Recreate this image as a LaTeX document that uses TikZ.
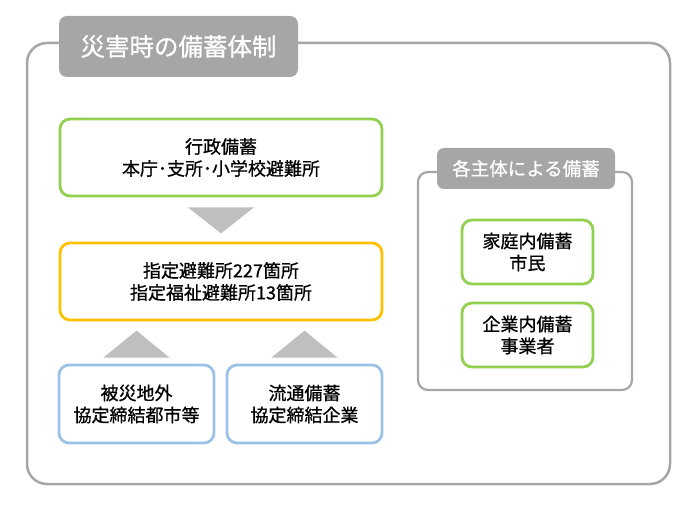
\documentclass[tikz,border=0pt]{standalone}
\usepackage{fontspec}
\setmainfont{Noto Sans CJK JP}
\newfontfamily\medfont{Noto Sans CJK JP}[FakeBold=0.8]
\usepackage{tikz}
\usetikzlibrary{positioning, calc}
\definecolor{framegray}{RGB}{166,166,166}
\definecolor{trigray}{RGB}{191,191,191}
\definecolor{boxgreen}{RGB}{146,208,80}
\definecolor{boxyellow}{RGB}{255,192,0}
\definecolor{boxblue}{RGB}{155,194,230}
\tikzset{
  frame/.style={draw=framegray, line width=2.5pt, rounded corners=20pt},
  titlebox/.style={rectangle, fill=framegray, text=white, rounded corners=8pt,
    font=\medfont\fontsize{24.5}{27}\selectfont, inner sep=0pt},
  greenbox/.style={rectangle, draw=boxgreen, fill=white, line width=2.8pt,
    rounded corners=10pt, align=center, inner sep=0pt,
    font=\medfont\fontsize{18}{22}\selectfont},
  yellowbox/.style={greenbox, draw=boxyellow},
  bluebox/.style={greenbox, draw=boxblue},
  flowtri/.style={fill=trigray}
}
\begin{document}
\begin{tikzpicture}[x=1pt, y=1pt]
  \useasboundingbox (0,0) rectangle (700,511);
  % outer frames
  \draw[frame] (27,27) rectangle (670,468);
  \draw[frame, rounded corners=10pt, line width=2.2pt] (418,121) rectangle (632,339);

  % titles
  \node[titlebox, minimum width=239pt, minimum height=61pt] (title) at (178.5,464.5) {災害時の備蓄体制};
  \node[titlebox, minimum width=178pt, minimum height=41pt,
    font=\medfont\fontsize{18.5}{20}\selectfont, rounded corners=7pt] (subtitle) at (526,342.5) {各主体による備蓄};

  % left side
  \node[greenbox, minimum width=322pt, minimum height=77pt] (gyosei) at (221,353.5)
    {行政備蓄\\本庁･支所･小学校避難所};
  \node[yellowbox, minimum width=322pt, minimum height=77pt] (hinanjo) at (221,229.5)
    {指定避難所227箇所\\指定福祉避難所13箇所};
  \node[bluebox, minimum width=155pt, minimum height=78pt] (kyotei) at (136.5,107)
    {被災地外\\協定締結都市等};
  \node[bluebox, minimum width=155pt, minimum height=78pt] (ryutsu) at (304.5,107)
    {流通備蓄\\協定締結企業};

  % triangles
  \fill[flowtri] ($(gyosei.south)+(-33,-10)$) -- ++(66,0) -- ($(gyosei.south)+(0,-36)$) -- cycle;
  \fill[flowtri] ($(kyotei.north)+(-33,6)$) -- ++(66,0) -- ($(kyotei.north)+(0,33)$) -- cycle;
  \fill[flowtri] ($(ryutsu.north)+(-33,6)$) -- ++(66,0) -- ($(ryutsu.north)+(0,33)$) -- cycle;

  % right side
  \node[greenbox, minimum width=131pt, minimum height=64pt] (katei) at (527.5,259)
    {家庭内備蓄\\市民};
  \node[greenbox, minimum width=131pt, minimum height=64pt] (kigyo) at (527.5,176)
    {企業内備蓄\\事業者};
\end{tikzpicture}
\end{document}
